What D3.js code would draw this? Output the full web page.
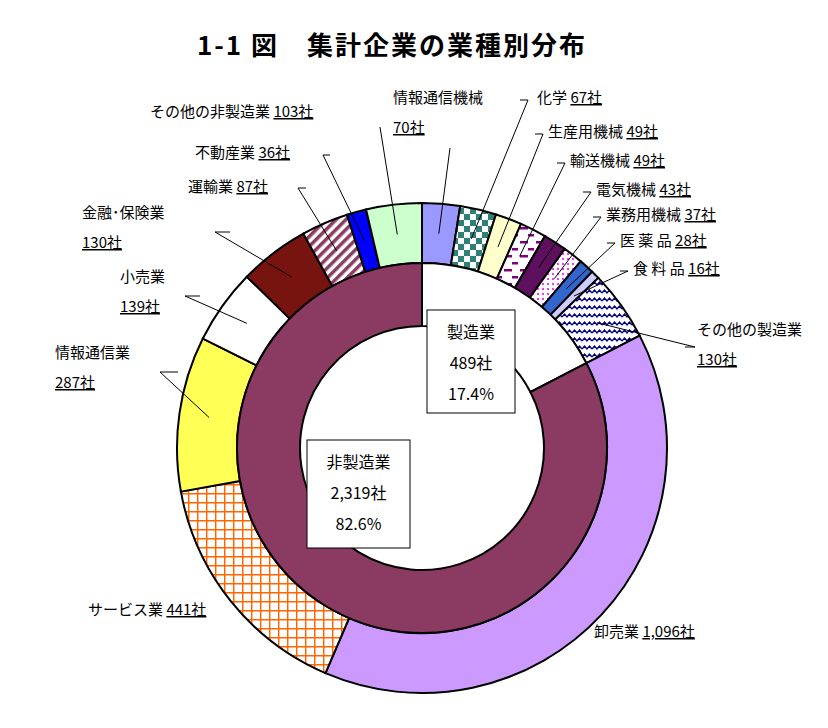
<!DOCTYPE html>
<html><head><meta charset="utf-8">
<script src="https://cdn.jsdelivr.net/npm/d3@7"></script>
<style>body{margin:0;background:#fff}text{font-family:"Noto Sans CJK JP","Noto Sans",sans-serif}</style>
</head><body><div id="chart"></div>
<script>
// outer ring: industries (clockwise from top)
const names = ["情報通信機械","化学","生産用機械","輸送機械","電気機械","業務用機械","医 薬 品","食 料 品","その他の製造業",
  "卸売業","サービス業","情報通信業","小売業","金融･保険業","運輸業","不動産業","その他の非製造業"];
const counts = [70,67,49,49,43,37,28,16,130, 1096,441,287,139,130,87,36,103];
const fills = ["#9999ff","url(#checker)","#ffffcc","url(#dash)","#5e0f5e","url(#dots)","#3366cc","#ccccff","url(#wave)",
  "#cc99ff","url(#grid)","#ffff55","#ffffff","#77140f","url(#stripe)","#0000ff","#ccffcc"];
// inner ring
const groups = ["製造業","非製造業"];
const groupCounts = [489, 2319];
const groupPct = ["17.4%","82.6%"];
const groupFills = ["#ffffff","#8b3a62"];

// label layout: [text x, text y, two-line?, leader end x, leader end y, elbow x]
const labelPos = [
  [393,103,true,450,148,null],[537,103,false,528,100,520],[548,137,false,543,134,535],[570,166,false,565,163,557],
  [596,195,false,591,192,583],[606,220,false,601,217,593],[620,246,false,615,243,607],[633,274,false,628,271,620],
  [697,335,true,695,347,685],[594,637,false,0,0,null],[88,615,false,0,0,null],[55,358,true,160,372,178],
  [120,282,true,185,296,200],[82,218,true,215,232,230],[188,192,false,298,188,306],[195,158,false,323,155,330],[150,117,false,380,127,null]
];

const W = 828, H = 728, cx = 422, cy = 448;
const rOut = 245, rMid = 185, rIn = 122;
const fmt = d3.format(",");

const svg = d3.select("#chart").append("svg").attr("width", W).attr("height", H);
const defs = svg.append("defs");
let p = defs.append("pattern").attr("id","checker").attr("width",12).attr("height",12).attr("patternUnits","userSpaceOnUse");
p.append("rect").attr("width",12).attr("height",12).attr("fill","#fff");
p.append("rect").attr("width",6).attr("height",6).attr("fill","#2e7f76");
p.append("rect").attr("x",6).attr("y",6).attr("width",6).attr("height",6).attr("fill","#2e7f76");
p = defs.append("pattern").attr("id","dash").attr("width",16).attr("height",14).attr("patternUnits","userSpaceOnUse");
p.append("rect").attr("width",16).attr("height",14).attr("fill","#fff");
p.append("rect").attr("x",2).attr("y",3).attr("width",8).attr("height",2.5).attr("fill","#800080");
p.append("rect").attr("x",10).attr("y",10).attr("width",8).attr("height",2.5).attr("fill","#800080");
p = defs.append("pattern").attr("id","dots").attr("width",5).attr("height",5).attr("patternUnits","userSpaceOnUse");
p.append("rect").attr("width",5).attr("height",5).attr("fill","#fff");
p.append("rect").attr("width",2).attr("height",2).attr("fill","#ff33ff");
p = defs.append("pattern").attr("id","wave").attr("width",10).attr("height",8).attr("patternUnits","userSpaceOnUse");
p.append("rect").attr("width",10).attr("height",8).attr("fill","#fff");
p.append("path").attr("d","M0,5 L2.5,2 L5,5 L7.5,2 L10,5").attr("stroke","#000080").attr("stroke-width",1.4).attr("fill","none");
p = defs.append("pattern").attr("id","grid").attr("width",9).attr("height",9).attr("patternUnits","userSpaceOnUse");
p.append("rect").attr("width",9).attr("height",9).attr("fill","#fff");
p.append("path").attr("d","M0,0.7 H9 M0.7,0 V9").attr("stroke","#ff6600").attr("stroke-width",1.5);
p = defs.append("pattern").attr("id","stripe").attr("width",7).attr("height",7).attr("patternUnits","userSpaceOnUse").attr("patternTransform","rotate(45)");
p.append("rect").attr("width",7).attr("height",7).attr("fill","#fff");
p.append("rect").attr("width",3.5).attr("height",7).attr("fill","#8b3a62");

svg.append("text").attr("x", 392).attr("y", 55).attr("text-anchor","middle")
  .attr("font-size", 26).attr("font-weight","bold").attr("letter-spacing", 2).text("1-1 図　集計企業の業種別分布");

const g = svg.append("g").attr("transform", `translate(${cx},${cy})`);
const pie = d3.pie().sort(null).value(d => d);
const outerArcs = pie(counts);
const innerArcs = pie(groupCounts);
const arcOut = d3.arc().innerRadius(rMid).outerRadius(rOut);
const arcIn = d3.arc().innerRadius(rIn).outerRadius(rMid);

g.selectAll("path.o").data(outerArcs).join("path").attr("class","o")
  .attr("d", arcOut).attr("fill", (d,i) => fills[i]).attr("stroke","#000").attr("stroke-width",2);
g.selectAll("path.i").data(innerArcs).join("path").attr("class","i")
  .attr("d", arcIn).attr("fill", (d,i) => groupFills[i]).attr("stroke","#000").attr("stroke-width",2);

// leader lines
const mid = d3.arc().innerRadius(rMid + 15).outerRadius(rOut - 15);
outerArcs.forEach((d, i) => {
  const lp = labelPos[i];
  if (lp[3] === 0) return;
  const c = mid.centroid(d);
  const pts = [[c[0]+cx, c[1]+cy], [lp[3], lp[4]]];
  if (lp[5] !== null) pts.push([lp[5], lp[4]]);
  svg.append("path").attr("d", d3.line()(pts)).attr("fill","none").attr("stroke","#000").attr("stroke-width",1);
});

// labels
outerArcs.forEach((d, i) => {
  const lp = labelPos[i];
  const t = svg.append("text").attr("x", lp[0]).attr("y", lp[1]).attr("font-size", 15);
  if (lp[2]) {
    t.append("tspan").text(names[i]);
    t.append("tspan").attr("x", lp[0]).attr("dy", 30).attr("text-decoration","underline").text(fmt(counts[i]) + "社");
  } else {
    t.append("tspan").text(names[i] + " ");
    t.append("tspan").attr("text-decoration","underline").text(fmt(counts[i]) + "社");
  }
});

// center boxes
const boxes = [[427,310,88,103],[307,440,103,108]];
groups.forEach((n, i) => {
  const b = boxes[i];
  svg.append("rect").attr("x", b[0]).attr("y", b[1]).attr("width", b[2]).attr("height", b[3])
    .attr("fill","#fff").attr("stroke","#000").attr("stroke-width",1);
  [n, fmt(groupCounts[i]) + "社", groupPct[i]].forEach((s, k) => {
    svg.append("text").attr("x", b[0] + b[2]/2).attr("y", b[1] + 28 + k*31).attr("text-anchor","middle")
      .attr("font-size", 16).text(s);
  });
});
</script></body></html>
